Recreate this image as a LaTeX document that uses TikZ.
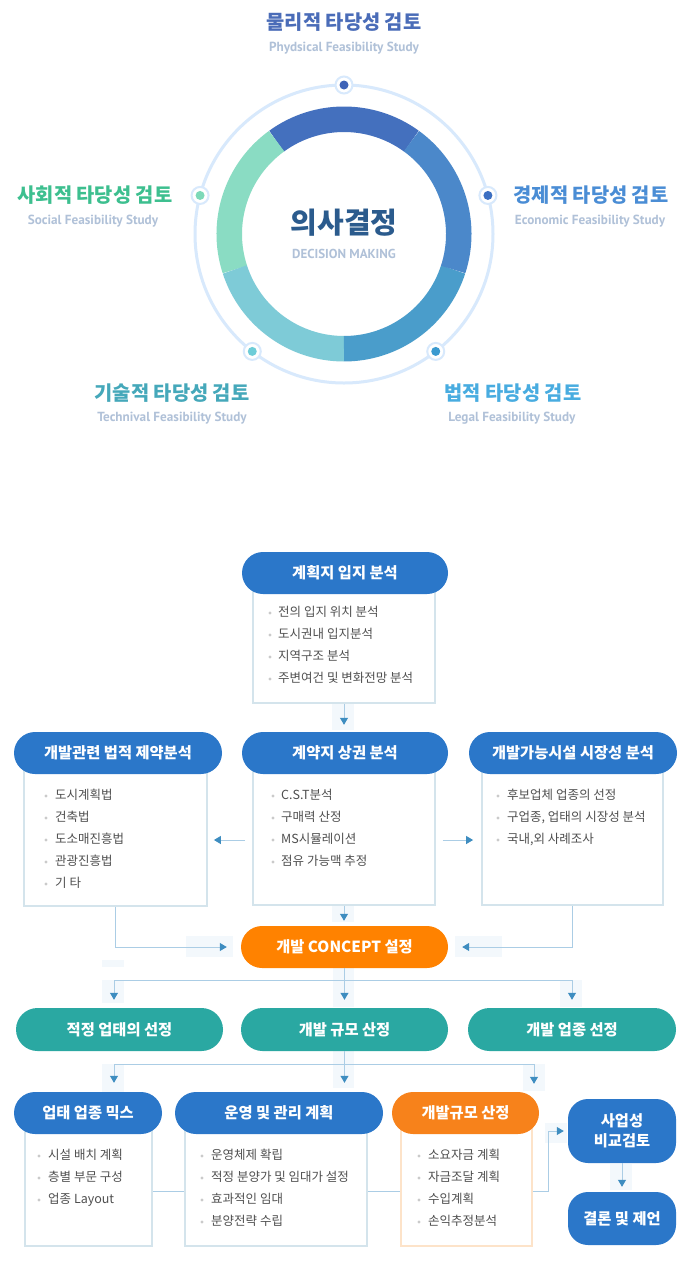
\documentclass[tikz,border=0pt]{standalone}
\usepackage{fontspec}
\setmainfont{Noto Sans CJK KR}
\newfontfamily\subfont{PT Sans}
\usetikzlibrary{arrows.meta,shapes.misc}

\definecolor{pillblue}{HTML}{2B77C9}
\definecolor{pillteal}{HTML}{2AA8A2}
\definecolor{pillorange}{HTML}{FF8200}
\definecolor{fundorange}{HTML}{F7821B}
\definecolor{boxline}{HTML}{D4E4EC}
\definecolor{fundline}{HTML}{FDE3C9}
\definecolor{itemgray}{HTML}{4F4F4F}
\definecolor{bulgray}{HTML}{CACACA}
\definecolor{linkblue}{HTML}{ABCDE5}
\definecolor{tipblue}{HTML}{3E8DC0}
\definecolor{tipback}{HTML}{F3F8FC}
\definecolor{ringblue}{HTML}{D8E9FC}
\definecolor{segtop}{HTML}{4470BE}
\definecolor{segright}{HTML}{4B88CA}
\definecolor{segbr}{HTML}{4A9DCB}
\definecolor{segbl}{HTML}{7ECBD7}
\definecolor{segleft}{HTML}{8ADCC3}
\definecolor{dottop}{HTML}{3F63B7}
\definecolor{dotright}{HTML}{3C6FC2}
\definecolor{dotbr}{HTML}{3A9AD0}
\definecolor{dotbl}{HTML}{6ECDD8}
\definecolor{dotleft}{HTML}{7DD9B8}
\definecolor{headphys}{HTML}{4A6CB8}
\definecolor{headsoc}{HTML}{3DBF8F}
\definecolor{headeco}{HTML}{4A8DD5}
\definecolor{headtec}{HTML}{45A8BA}
\definecolor{headleg}{HTML}{48ACE0}
\definecolor{subgray}{HTML}{B0C1D8}
\definecolor{coreblue}{HTML}{2B5B8D}

\tikzset{
  head/.style={inner sep=0pt, font=\fontsize{19.8}{21}\selectfont\bfseries},
  subhead/.style={inner sep=0pt, text=subgray, font=\subfont\bfseries\fontsize{13.2}{15}\selectfont},
  segment/.style={line width=25.5pt},
  ringline/.style={draw=ringblue, line width=3pt},
  dotring/.style={circle, draw=ringblue, line width=2pt, fill=white, minimum size=17pt, inner sep=0pt},
  pill/.style={rounded rectangle, fill=pillblue, text=white, minimum height=42pt, inner sep=0pt,
    font=\fontsize{15.3}{17}\selectfont\bfseries},
  listbox/.style={draw=boxline, line width=1.8pt, fill=white, anchor=north, inner sep=0pt},
  itm/.style={anchor=west, inner sep=0pt, text=itemgray, text height=0.8em, text depth=0.1em,
    font=\fontsize{12.5}{14}\selectfont},
  bul/.style={fill=bulgray},
  endbox/.style={rectangle, rounded corners=20pt, fill=pillblue, text=white, minimum width=108pt,
    inner sep=0pt, align=center, font=\fontsize{15.3}{20}\selectfont\bfseries},
  conn/.style={draw=linkblue, line width=1pt, -{Triangle[width=8pt,length=7pt,color=tipblue]}},
  link/.style={draw=linkblue, line width=1pt},
  tipbg/.style={fill=tipback}
}

\begin{document}
\begin{tikzpicture}
\path[use as bounding box, fill=white] (0pt,0pt) rectangle (691pt,-1267pt);

% feasibility ring
\coordinate (core) at (344pt,-234pt);
\draw[ringline] (core) circle (149pt);
\foreach \a/\b/\c in {54/126/segtop, 126/198/segleft, 198/270/segbl, 270/342/segbr, 342/414/segright}
  \draw[segment, \c] ([shift={(\a:114.75pt)}]core) arc (\a:\b:114.75pt);
\foreach \a/\c/\n in {90/dottop/phys, 15/dotright/eco, 165/dotleft/soc, -52/dotbr/leg, -128/dotbl/tec} {
  \node[dotring] (dot-\n) at ([shift={(\a:149pt)}]core) {};
  \fill[\c] (dot-\n) circle (4.5pt);
}
\node[inner sep=0pt, text=coreblue, font=\fontsize{29}{31}\selectfont\bfseries] (core-kr) at (344pt,-223pt) {의사결정};
\node[subhead, font=\subfont\bfseries\fontsize{13}{15}\selectfont] (core-en) at (344pt,-254pt) {DECISION MAKING};

\node[head, text=headphys] (phys) at (344pt,-22pt) {물리적 타당성 검토};
\node[subhead] (phys-en) at (344pt,-48pt) {Phydsical Feasibility Study};
\node[head, text=headsoc] (soc) at (95pt,-195pt) {사회적 타당성 검토};
\node[subhead] (soc-en) at (93pt,-221pt) {Social Feasibility Study};
\node[head, text=headeco] (eco) at (591pt,-195pt) {경제적 타당성 검토};
\node[subhead] (eco-en) at (590pt,-221pt) {Economic Feasibility Study};
\node[head, text=headtec] (tec) at (172pt,-393pt) {기술적 타당성 검토};
\node[subhead] (tec-en) at (172pt,-418pt) {Technival Feasibility Study};
\node[head, text=headleg] (leg) at (513pt,-393pt) {법적 타당성 검토};
\node[subhead] (leg-en) at (512pt,-418pt) {Legal Feasibility Study};

% pale backs of the arrow tips
\foreach \x/\y/\w/\h in {332/703/22/27, 332/905/22/17, 186/936/47/21, 455/936/47/21, 333/968/21/39,
    102/960/22/7, 102/980/22/23, 560/980/22/27, 333/1051/21/37, 102/1064/22/28, 523/1064/22/27,
    545/1123/22/20, 610/1164/22/26}
  \fill[tipbg] (\x pt,-\y pt) rectangle ++(\w pt,-\h pt);

% analysis boxes
\node[listbox, minimum width=182pt, minimum height=129pt] (planbox) at (344pt,-573pt) {};
\node[listbox, minimum width=183pt, minimum height=152pt] (lawbox) at (115.5pt,-753pt) {};
\node[listbox, minimum width=182pt, minimum height=151pt] (trbox) at (344pt,-753pt) {};
\node[listbox, minimum width=181pt, minimum height=151pt] (mkbox) at (572.5pt,-753pt) {};
\node[listbox, minimum width=127pt, minimum height=132pt] (mixbox) at (88.5pt,-1113pt) {};
\node[listbox, minimum width=182pt, minimum height=132pt] (operbox) at (276pt,-1113pt) {};
\node[listbox, draw=fundline, minimum width=131pt, minimum height=132pt] (fundbox) at (466.5pt,-1113pt) {};

\node[pill, minimum width=206pt] (plan) at (345pt,-573pt) {계획지 입지 분석};
\node[pill, minimum width=208pt] (law) at (118pt,-753pt) {개발관련 법적 제약분석};
\node[pill, minimum width=206pt] (trade) at (345pt,-753pt) {계약지 상권 분석};
\node[pill, minimum width=208pt] (market) at (573pt,-753pt) {개발가능시설 시장성 분석};
\node[pill, fill=pillorange, minimum width=207pt] (concept) at (344.5pt,-947pt) {개발 CONCEPT 설정};
\node[pill, fill=pillteal, minimum width=207pt, minimum height=43pt] (genleft) at (119.5pt,-1029.5pt) {적정 업태의 선정};
\node[pill, fill=pillteal, minimum width=207pt, minimum height=43pt] (genmid) at (344.5pt,-1029.5pt) {개발 규모 산정};
\node[pill, fill=pillteal, minimum width=208pt, minimum height=43pt] (genright) at (572pt,-1029.5pt) {개발 업종 선정};
\node[pill, minimum width=148pt] (mix) at (88pt,-1113pt) {업태 업종 믹스};
\node[pill, minimum width=208pt] (oper) at (279pt,-1113pt) {운영 및 관리 계획};
\node[pill, fill=fundorange, minimum width=147pt] (fund) at (465.5pt,-1113pt) {개발규모 산정};
\node[endbox, minimum height=64pt] (biz) at (622pt,-1131pt) {사업성\\비교검토};
\node[endbox, minimum height=53pt] (concl) at (622pt,-1218.5pt) {결론 및 제언};

% box items
\foreach \t [count=\k] in {전의 입지 위치 분석, 도시권내 입지분석, 지역구조 분석, 주변여건 및 변화전망 분석} {
  \fill[bul] (270pt,-591pt-22pt*\k) circle (1.6pt);
  \node[itm] (plan-\k) at (278pt,-591pt-22pt*\k) {\t};
}
\foreach \t [count=\k] in {도시계획법, 건축법, 도소매진흥법, 관광진흥법, 기 타} {
  \fill[bul] (46pt,-774pt-22pt*\k) circle (1.6pt);
  \node[itm] (law-\k) at (55pt,-774pt-22pt*\k) {\t};
}
\foreach \t [count=\k] in {C.S.T분석, 구매력 산정, MS시뮬레이션, 점유 가능맥 추정} {
  \fill[bul] (273pt,-774pt-22pt*\k) circle (1.6pt);
  \node[itm] (tr-\k) at (281pt,-774pt-22pt*\k) {\t};
}
\foreach \t [count=\k] in {후보업체 업종의 선정, {구업종, 업태의 시장성 분석}, {국내,외 사례조사}} {
  \fill[bul] (498pt,-774pt-22pt*\k) circle (1.6pt);
  \node[itm] (mk-\k) at (507pt,-774pt-22pt*\k) {\t};
}
\foreach \t [count=\k] in {시설 배치 계획, 층별 부문 구성, 업종 Layout} {
  \fill[bul] (39pt,-1134pt-22pt*\k) circle (1.6pt);
  \node[itm] (mix-\k) at (48pt,-1134pt-22pt*\k) {\t};
}
\foreach \t [count=\k] in {운영체제 확립, 적정 분양가 및 임대가 설정, 효과적인 임대, 분양전략 수립} {
  \fill[bul] (202pt,-1134pt-22pt*\k) circle (1.6pt);
  \node[itm] (oper-\k) at (211pt,-1134pt-22pt*\k) {\t};
}
\foreach \t [count=\k] in {소요자금 계획, 자금조달 계획, 수입계획, 손익추정분석} {
  \fill[bul] (419pt,-1134pt-22pt*\k) circle (1.6pt);
  \node[itm] (fund-\k) at (428pt,-1134pt-22pt*\k) {\t};
}

% connectors
\draw[conn, shorten >=7pt] (planbox.south) -- (planbox.south |- trade.north);
\draw[conn, shorten <=7pt, shorten >=6pt] (trbox.west |- tr-3) -- (lawbox.east |- tr-3);
\draw[conn, shorten <=7pt, shorten >=8pt] (trbox.east |- tr-3) -- (mkbox.west |- tr-3);
\draw[conn, shorten >=5pt] (trbox.south) -- (trbox.south |- concept.north);
\draw[conn, shorten >=14pt] (lawbox.south) |- (concept.west);
\draw[conn, shorten >=14pt] (mkbox.south) |- (concept.east);
\draw[conn, shorten >=8pt] (concept.south) -- (genmid.north);
\draw[conn, shorten >=8pt] (concept.south) -- ++(0,-12pt) -| ([xshift=-5.5pt]genleft.north);
\draw[conn, shorten >=8pt] (concept.south) -- ++(0,-12pt) -| (genright.north);
\draw[conn, shorten >=9pt] (genmid.south) -- (genmid.south |- oper.north);
\draw[conn, shorten >=9pt] (genmid.south) -- ++(0,-13pt) -| ([xshift=26pt]mix.north);
\draw[conn, shorten >=8pt] (genmid.south) -- ++(0,-13pt) -| ([xshift=68.5pt]fund.north);
\draw[link] ([yshift=-12pt]mixbox.east) -- ([yshift=-12pt]operbox.west);
\draw[link] ([yshift=-12pt]operbox.east) -- ([yshift=-12pt]fundbox.west);
\draw[conn, shorten >=4pt] ([yshift=-12pt]fundbox.east) -- ++(16pt,0) |- (biz.west);
\draw[conn, shorten >=5pt] (biz) -- (concl);
\end{tikzpicture}
\end{document}
